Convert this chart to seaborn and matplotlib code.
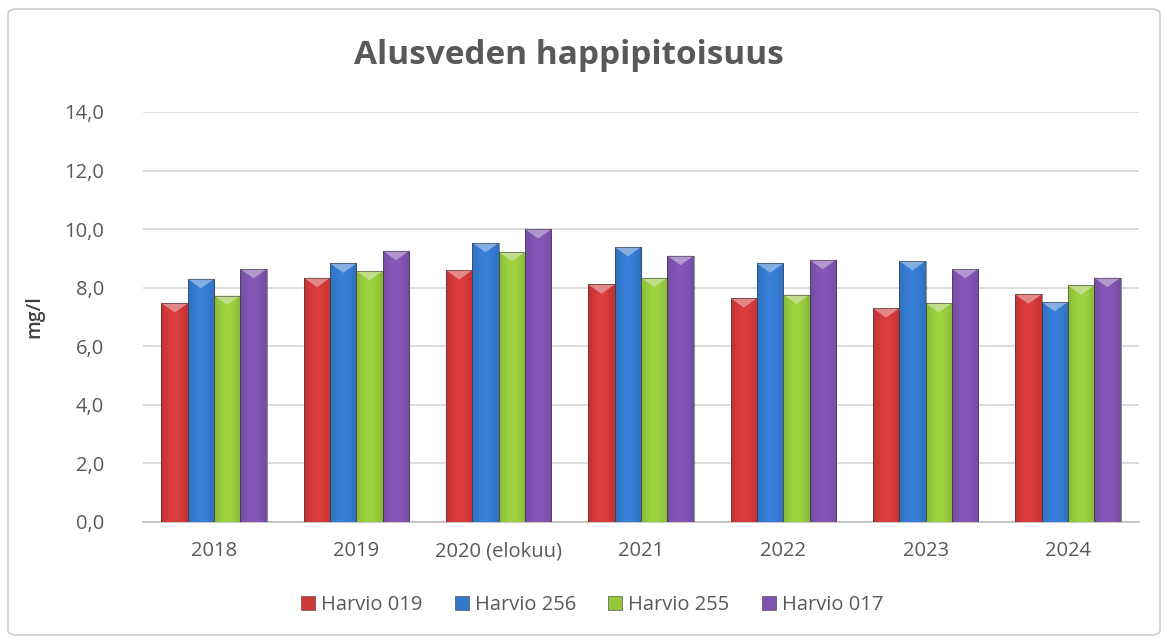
import numpy as np
import pandas as pd
import matplotlib
matplotlib.use("Agg")
import matplotlib.pyplot as plt
from matplotlib.patches import FancyBboxPatch, Polygon
import matplotlib.colors as mcolors
import seaborn as sns

categories = ["2018", "2019", "2020 (elokuu)", "2021", "2022", "2023", "2024"]
series = ["Harvio 019", "Harvio 256", "Harvio 255", "Harvio 017"]
harvio_019 = [7.47, 8.34, 8.60, 8.11, 7.64, 7.30, 7.77]
harvio_256 = [8.30, 8.83, 9.53, 9.39, 8.83, 8.91, 7.51]
harvio_255 = [7.73, 8.57, 9.22, 8.34, 7.76, 7.47, 8.08]
harvio_017 = [8.64, 9.26, 10.00, 9.09, 8.95, 8.64, 8.34]
colors = ["#CF3838", "#3478CC", "#94C73C", "#7E52AE"]
y_ticks = [0, 2, 4, 6, 8, 10, 12, 14]

df = pd.DataFrame({
    "Vuosi": np.tile(categories, 4),
    "Asema": np.repeat(series, len(categories)),
    "Arvo": harvio_019 + harvio_256 + harvio_255 + harvio_017,
})

sns.set_theme(style="white")
font = "Open Sans"
plt.rcParams["font.family"] = [font, "DejaVu Sans"]

W, H = 1167, 641
fig = plt.figure(figsize=(W / 100, H / 100), dpi=100)
fig.patch.set_facecolor("white")

border = FancyBboxPatch((8 / W, 6 / H), 1152 / W, 626 / H,
                        boxstyle="round,pad=0,rounding_size=0.008",
                        transform=fig.transFigure, facecolor="none",
                        edgecolor="#D0D0D0", linewidth=1.3)
fig.patches.append(border)

ax = fig.add_axes([143 / W, 1 - 522 / H, (1139 - 143) / W, (522 - 112) / H])
sns.barplot(data=df, x="Vuosi", y="Arvo", hue="Asema", palette=colors,
            width=0.74, ax=ax, legend=True, saturation=1,
            edgecolor="#3A3A3A", linewidth=0.4, zorder=3)

ax.set_ylim(0, 14)
ax.set_yticks(y_ticks)
ax.set_yticklabels([f"{t:.1f}".replace(".", ",") for t in y_ticks])
ax.yaxis.grid(True, color="#D9D9D9", linewidth=1.3, zorder=0)
ax.set_axisbelow(True)
for s in ["top", "right", "left"]:
    ax.spines[s].set_visible(False)
ax.spines["bottom"].set_color("#BFBFBF")
ax.spines["bottom"].set_linewidth(1.2)
ax.tick_params(axis="y", left=False, labelsize=14.5, labelcolor="#595959", pad=22)
ax.tick_params(axis="x", bottom=False, labelsize=14.5, labelcolor="#595959", pad=8)
ax.set_xlabel("")
ax.set_ylabel("mg/l", fontsize=14, color="#404040", fontweight="semibold", labelpad=14)

xlim = ax.get_xlim()
bars = [p for p in ax.patches if p.get_height() > 0]
for p in bars:
    x, w, h = p.get_x(), p.get_width(), p.get_height()
    base = np.array(mcolors.to_rgb(p.get_facecolor()))
    t = np.linspace(0, 1, 60)
    prof = 0.86 + 0.2 * np.sin(np.pi * (0.1 + 0.8 * t))
    row = np.clip(base[None, :] * prof[:, None], 0, 1)
    img = np.tile(row[None, :, :], (2, 1, 1))
    im = ax.imshow(img, extent=[x, x + w, 0, h], aspect="auto", zorder=3.5,
                   interpolation="bilinear")
    im.set_clip_path(p)
    light = np.clip(base + (1 - base) * 0.4, 0, 1)
    tri = Polygon([[x, h], [x + w, h], [x + w / 2, h - 0.32]], closed=True,
                  facecolor=light, edgecolor="none", zorder=3.6)
    ax.add_patch(tri)
    p.set_zorder(3.7)
    p.set_facecolor("none")
ax.set_xlim(xlim)
ax.set_ylim(0, 14)

leg = ax.get_legend()
handles = leg.legend_handles
leg.remove()
fig.legend(handles, series, loc="center", bbox_to_anchor=(592 / W, 1 - 605 / H),
           ncol=4, frameon=False, fontsize=14.5, labelcolor="#595959",
           handlelength=0.7, handleheight=0.7, handletextpad=0.3, columnspacing=1.6)

fig.text(569 / W, 1 - 56 / H, "Alusveden happipitoisuus", ha="center", va="center",
         fontsize=24, fontweight="bold", color="#595959")

fig.savefig("out.png", dpi=100, facecolor="white")
